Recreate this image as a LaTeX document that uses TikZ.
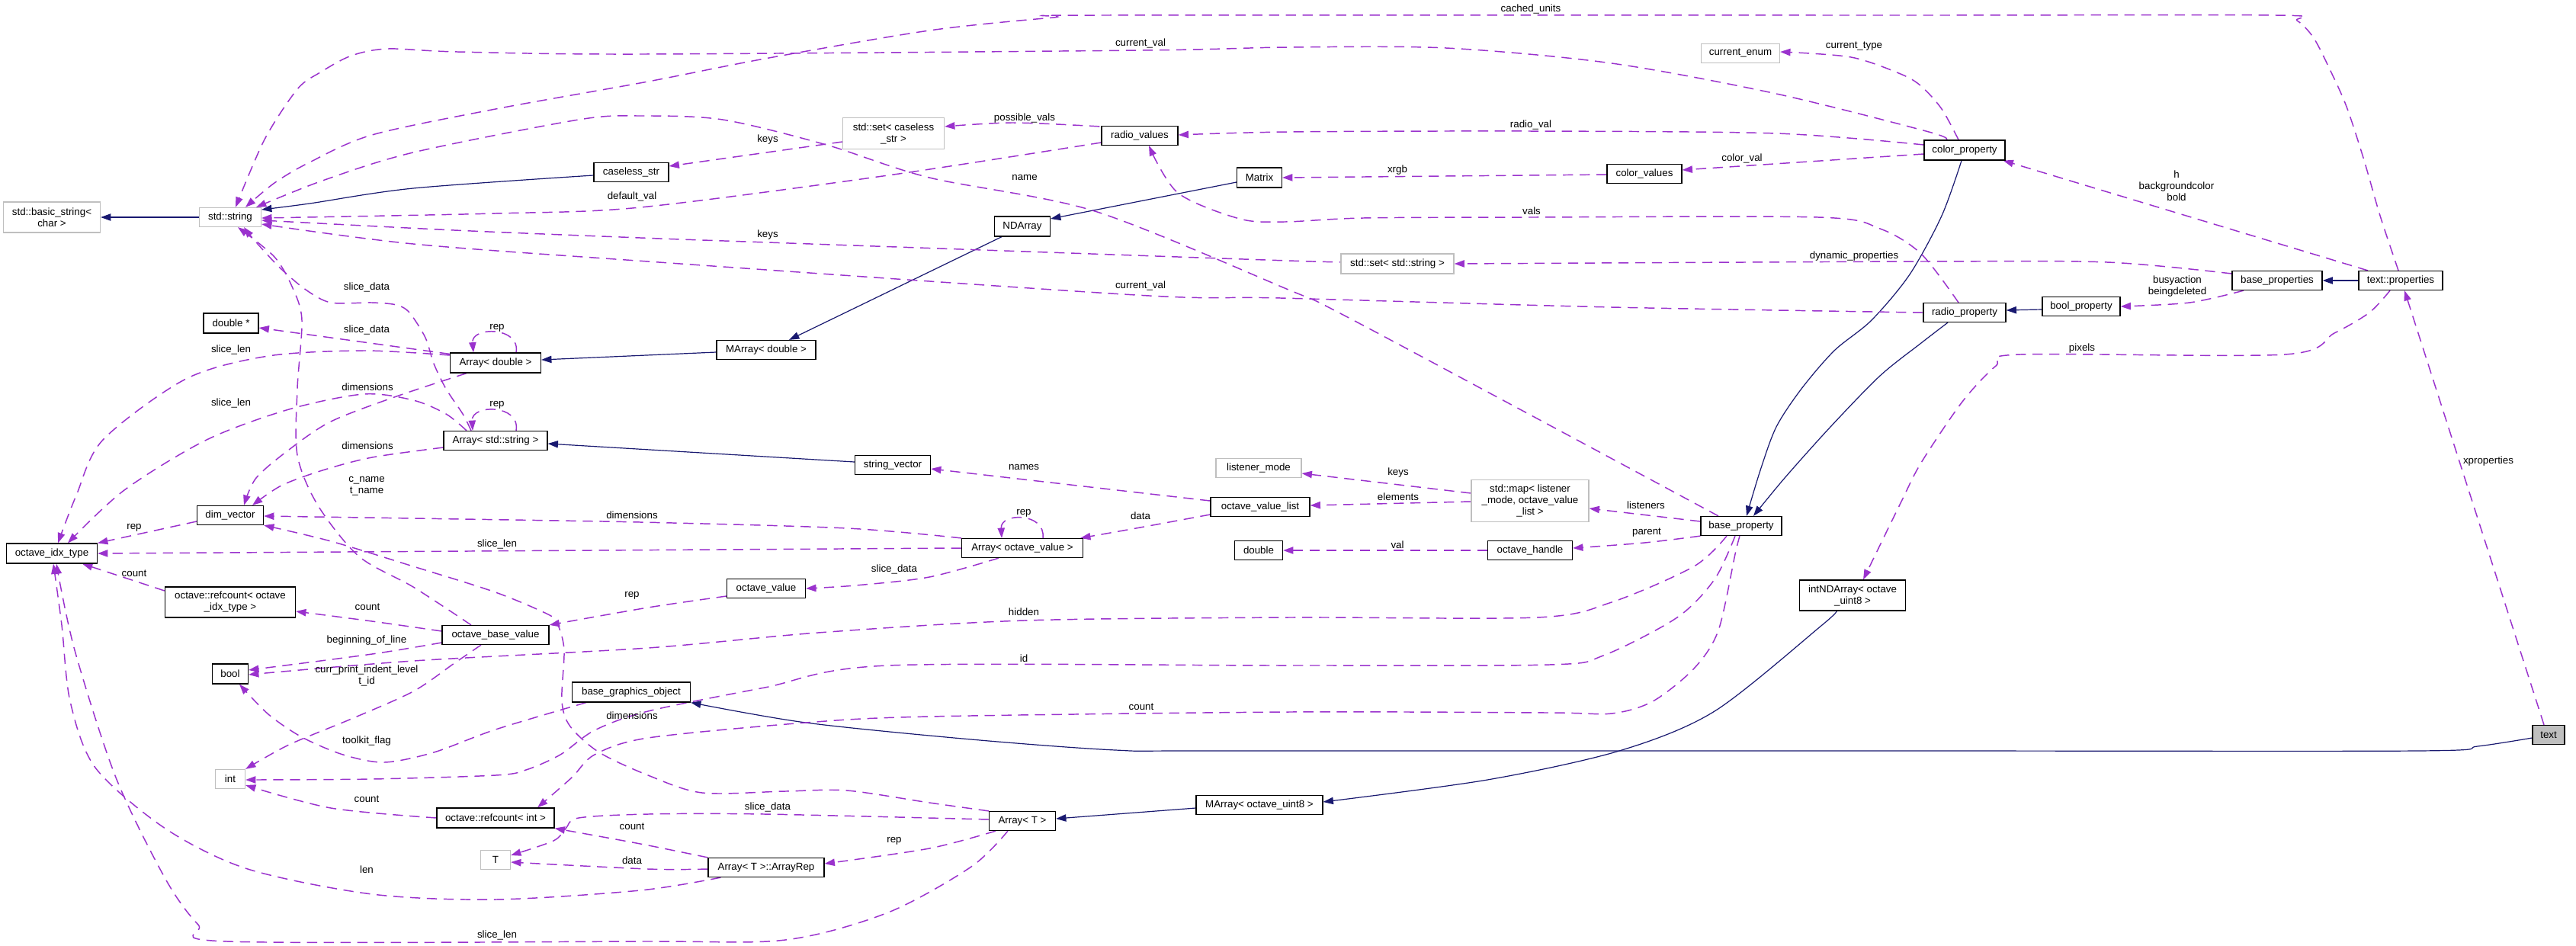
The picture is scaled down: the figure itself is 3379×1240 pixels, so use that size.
\documentclass[tikz,border=0pt]{standalone}
\usepackage{fontspec}
\setmainfont{Liberation Sans}
\usetikzlibrary{calc,arrows.meta}
\definecolor{navy}{HTML}{191970}
\definecolor{orch}{HTML}{9A32CD}
\definecolor{lgray}{HTML}{BFBFBF}
\pgfdeclarelayer{back}
\pgfdeclarelayer{edges}
\pgfsetlayers{back,edges,main}
\tikzset{
  cls/.style={draw=black,line width=0.9pt,fill=white,inner sep=0pt,align=center,font=\fontsize{10}{11.25}\selectfont},
  ext/.style={cls,draw=lgray},
  cur/.style={cls,fill=lgray},
  lbl/.style={inner sep=0pt,align=center,font=\fontsize{10}{11.25}\selectfont},
  inh/.style={draw=navy,line width=0.9pt,-{Triangle[length=10pt,width=7pt]}},
  mem/.style={draw=orch,line width=1.1pt,dash pattern=on 10pt off 6.5pt,-{Triangle[length=10pt,width=7pt]}},
}
\newcommand\mk[6]{\node[#1,minimum width=#4*0.75pt,minimum height=#5*0.75pt] (#2) at (#3) {#6};}
\newcommand\lb[3]{\node[lbl] (#1) at (#2) {#3};}
\begin{document}
\begin{tikzpicture}[x=0.75pt,y=-0.75pt]
\begin{pgfonlayer}{back}
\fill[white] (0,0) rectangle (3379,1240);
\end{pgfonlayer}
\useasboundingbox (0,0) rectangle (3379,1240);
% nodes
\mk{ext}{bstr}{68,285}{127}{40}{std::basic\_string<\\char >}
\mk{ext}{sstr}{302,285}{81}{25}{std::string}
\mk{cls}{cstr}{828,226}{98}{25}{caseless\_str}
\mk{ext}{setcs}{1172,175}{133}{41}{std::set< caseless\\\_str >}
\mk{cls}{rvals}{1495,178}{100}{25}{radio\_values}
\mk{cls}{matrix}{1652,233}{59}{26}{Matrix}
\mk{cls}{ndarr}{1341,297}{73}{26}{NDArray}
\mk{ext}{cenum}{2283,70}{103}{25}{current\_enum}
\mk{cls}{cvals}{2157,228}{98}{25}{color\_values}
\mk{ext}{setss}{1833,346}{148}{26}{std::set< std::string >}
\mk{cls}{cprop}{2577,197}{106}{26}{color\_property}
\mk{cls}{bprops}{2987,368}{118}{25}{base\_properties}
\mk{cls}{tprops}{3149,368}{110}{25}{text::properties}
\mk{cls}{boolp}{2730,402}{102}{25}{bool\_property}
\mk{cls}{rprop}{2577,410}{108}{25}{radio\_property}
\mk{cls}{dstar}{303,424}{72}{26}{double *}
\mk{cls}{adbl}{650,476}{119}{26}{Array< double >}
\mk{cls}{astr}{650,578}{136}{25}{Array< std::string >}
\mk{cls}{dimv}{302,676}{87}{25}{dim\_vector}
\mk{cls}{oidx}{68,726}{119}{26}{octave\_idx\_type}
\mk{cls}{rcidx}{302,790}{171}{40}{octave::refcount< octave\\\_idx\_type >}
\mk{cls}{madbl}{1005,459}{130}{25}{MArray< double >}
\mk{cls}{svec}{1171,610}{99}{25}{string\_vector}
\mk{ext}{lmode}{1651,614}{112}{25}{listener\_mode}
\mk{cls}{ovl}{1653,665}{130}{25}{octave\_value\_list}
\mk{cls}{aov}{1341,719}{159}{25}{Array< octave\_value >}
\mk{cls}{ov}{1005,772}{103}{25}{octave\_value}
\mk{cls}{dbl}{1651,722}{63}{25}{double}
\mk{ext}{smap}{2007,657}{154}{55}{std::map< listener\\\_mode, octave\_value\\\_list >}
\mk{cls}{bprop}{2284,690}{106}{25}{base\_property}
\mk{cls}{ohandle}{2007,722}{111}{25}{octave\_handle}
\mk{cls}{intnd}{2430,781}{139}{40}{intNDArray< octave\\\_uint8 >}
\mk{cls}{obv}{650,833}{140}{25}{octave\_base\_value}
\mk{cls}{boolt}{302,884}{47}{26}{bool}
\mk{cls}{bgo}{828,908}{155}{26}{base\_graphics\_object}
\mk{ext}{intt}{302,1022}{39}{25}{int}
\mk{cls}{rcint}{650,1073}{154}{26}{octave::refcount< int >}
\mk{ext}{tt}{650,1128}{39}{25}{T}
\mk{cls}{at}{1341,1077}{87}{25}{Array< T >}
\mk{cls}{arep}{1005,1138}{152}{25}{Array< T >::ArrayRep}
\mk{cls}{mau8}{1652,1056}{166}{25}{MArray< octave\_uint8 >}
\mk{cur}{text}{3343,964}{42}{25}{text}
\begin{pgfonlayer}{edges}
% inheritance edges
\draw[inh] (sstr.west) -- (bstr.east);
\draw[inh] plot[smooth] coordinates {($(cstr.west)+(0,4)$) (542,247) (406,267) ($(sstr.east)+(0,-10)$)};
\draw[inh] ($(matrix.west)+(0,6)$) -- ($(ndarr.east)+(0,-10)$);
\draw[inh] ($(ndarr.south)+(-27,0)$) -- ($(madbl.north)+(30,0)$);
\draw[inh] ($(madbl.west)+(0,3)$) -- ($(adbl.east)+(0,-4)$);
\draw[inh] ($(svec.west)+(0,-4)$) -- ($(astr.east)+(0,4)$);
\draw[inh] plot[smooth] coordinates {($(cprop.south)+(-4,0)$) (2547,283) (2505,360) (2455,420) (2406,460) (2363,510) (2330,560) (2309,617) ($(bprop.north)+(7,0)$)};
\draw[inh] plot[smooth] coordinates {($(rprop.south)+(-22,0)$) (2520,450) (2466,493) (2401,560) (2341,627) ($(bprop.north)+(16,0)$)};
\draw[inh] ($(boolp.west)+(0,4)$) -- ($(rprop.east)+(0,-3)$);
\draw[inh] (tprops.west) -- (bprops.east);
\draw[inh] plot[smooth] coordinates {($(text.west)+(0,4)$) (3250,979) (3170,985) (2500,985) (1600,985) (1463,984) (1274,970) (1057,948) (bgo.south east)};
\draw[inh] plot[smooth] coordinates {($(intnd.south)+(-21,0)$) (2390,820) (2249,933) (2124,985) (1951,1023) ($(mau8.east)+(0,-4)$)};
\draw[inh] ($(mau8.west)+(0,4)$) -- ($(at.east)+(0,-3)$);
% member edges
\draw[mem] plot[smooth] coordinates {($(tprops.north)+(-3,0)$) (3122,283) (3100,207) (3078,140) (3057,93) (3035,50) (3013,27) (2985,20) (2500,20) (1447,20) (1382,23) (1219,40) (1003,77) (850,107) (650,143) (488,177) (406,213) (360,240) ($(sstr.north)+(20,0)$)};
\draw[mem] plot[smooth] coordinates {($(cprop.north)+(-24,0)$) (2530,173) (2330,123) (2114,83) (1897,63) (1690,62) (1496,66) (840,71) (600,68) (509,64) (461,73) (420,95) (390,117) (347,183) ($(sstr.north)+(7,0)$)};
\draw[mem] plot[smooth] coordinates {($(bprop.north)+(-30,0)$) (2005,543) (1756,410) (1690,380) (1436,277) (1219,233) (1084,190) (948,157) (840,152) (759,157) (542,200) (423,237) ($(sstr.north)+(34,0)$)};
\draw[mem] plot[smooth] coordinates {($(rvals.west)+(0,9)$) (1165,230) (840,272) (650,280) ($(sstr.east)+(0,1)$)};
\draw[mem] plot[smooth] coordinates {($(setss.west)+(0,-3)$) (1690,342) (1007,318) (840,312) (596,302) ($(sstr.east)+(0,4)$)};
\draw[mem] plot[smooth] coordinates {(rprop.west) (2114,403) (1680,391) (1490,387) (850,343) (542,320) ($(sstr.east)+(0,9)$)};
\draw[mem] plot[smooth] coordinates {($(astr.north)+(-32,0)$) (607,543) (585,510) (569,477) (558,443) (537,410) (520,400) (488,397) (434,397) (401,380) (369,353) (347,330) (331,312) ($(sstr.south)+(18,0)$)};
\draw[mem] plot[smooth] coordinates {($(obv.north)+(-32,0)$) (542,770) (471,730) (417,663) (390,597) (390,510) (396,420) (384,378) (360,337) ($(sstr.south)+(10,0)$)};
\draw[mem] plot[smooth] coordinates {($(rvals.north west)+(-2,1)$) (1328,161) ($(setcs.east)+(0,-9)$)};
\draw[mem] ($(setcs.west)+(0,11)$) -- ($(cstr.east)+(0,-8)$);
\draw[mem] plot[smooth] coordinates {($(cprop.west)+(0,-7)$) (2330,175) (2005,172) (1690,173) ($(rvals.east)+(0,-1)$)};
\draw[mem] plot[smooth] coordinates {($(cprop.north)+(-8,0)$) (2547,143) (2520,113) (2493,97) (2428,75) ($(cenum.east)+(0,-2)$)};
\draw[mem] ($(cprop.west)+(0,5)$) -- ($(cvals.east)+(0,-5)$);
\draw[mem] ($(cvals.west)+(0,1)$) -- (matrix.east);
\draw[mem] plot[smooth] coordinates {($(rprop.north)+(-8,0)$) (2520,333) (2466,300) (2385,285) (2005,285) (1788,286) (1685,291) (1626,287) (1545,253) ($(rvals.south)+(12,0)$)};
\draw[mem] plot[smooth] coordinates {($(bprops.west)+(0,-9)$) (2764,344) (2520,343) (setss.east)};
\draw[mem] ($(tprops.north)+(-43,0)$) -- ($(cprop.south east)+(-3,0)$);
\draw[mem] plot[smooth] coordinates {($(bprops.south)+(-44,0)$) (2872,397) (boolp.east)};
\draw[mem] ($(text.north)+(-6,0)$) -- ($(tprops.south)+(5,0)$);
\draw[mem] plot[smooth] coordinates {($(tprops.south)+(-14,0)$) (3108,410) (3062,437) (2997,465) (2650,465) (2618,480) (2574,527) (2520,607) (2493,660) ($(intnd.north)+(14,0)$)};
\draw[mem] ($(ovl.west)+(0,-8)$) -- ($(svec.east)+(0,5)$);
\draw[mem] ($(smap.west)+(0,-10)$) -- ($(lmode.east)+(0,7)$);
\draw[mem] ($(smap.west)+(0,1)$) -- ($(ovl.east)+(0,-2)$);
\draw[mem] ($(bprop.west)+(0,-6)$) -- ($(smap.east)+(0,10)$);
\draw[mem] plot[smooth] coordinates {(bprop.south west) (2157,712) ($(ohandle.east)+(0,-3)$)};
\draw[mem] (ohandle.west) -- (dbl.east);
\draw[mem] plot[smooth] coordinates {($(ovl.west)+(0,10)$) (1490,693) ($(aov.north east)+(-4,0)$)};
\draw[mem] ($(aov.north)+(27,0)$) .. controls (1372,672) and (1312,672) .. ($(aov.north)+(-27,0)$);
\draw[mem] plot[smooth] coordinates {($(aov.south)+(-31,0)$) (1219,757) (1122,768) (ov.east)};
\draw[mem] plot[smooth] coordinates {(aov.north west) (1111,693) (840,685) (542,680) ($(dimv.east)+(0,1)$)};
\draw[mem] (aov.west) -- (oidx.east);
\draw[mem] ($(dimv.west)+(0,8)$) -- (oidx.north east);
\draw[mem] ($(rcidx.west)+(0,-15)$) -- ($(oidx.south)+(40,0)$);
\draw[mem] plot[smooth] coordinates {($(obv.west)+(0,-5)$) (488,815) ($(rcidx.east)+(0,12)$)};
\draw[mem] plot[smooth] coordinates {($(ov.west)+(0,10)$) (850,797) (obv.north east)};
\draw[mem] plot[smooth] coordinates {(at.north west) (1219,1053) (1111,1037) (1030,1038) (921,1040) (850,1017) (786,987) (748,953) (737,920) (740,853) (732,820) (721,807) (650,777) (542,743) (434,710) (dimv.south east)};
\draw[mem] plot[smooth] coordinates {($(bprop.south)+(-8,0)$) (2249,760) (2200,810) (2103,860) (2032,872) (1690,873) (1165,873) (1003,902) (850,933) (780,958) (735,990) (690,1010) (650,1017) (488,1022) ($(intt.east)+(0,1)$)};
\draw[mem] plot[smooth] coordinates {($(bprop.south)+(-2,0)$) (2276,727) (2254,827) (2222,877) (2168,920) (2114,936) (2032,935) (1690,934) (1219,940) (1057,948) (850,968) (780,990) (750,1020) ($(rcint.north)+(55,0)$)};
\draw[mem] plot[smooth] coordinates {($(bprop.south)+(-19,0)$) (2222,743) (2114,790) (2016,810) (1690,810) (1343,814) (1073,830) (850,850) (542,867) ($(boolt.east)+(0,1)$)};
\draw[mem] plot[smooth] coordinates {($(obv.west)+(0,10)$) (488,858) ($(boolt.east)+(0,-5)$)};
\draw[mem] plot[smooth] coordinates {($(obv.south)+(-19,0)$) (596,870) (542,907) (461,943) (379,977) (intt.north east)};
\draw[mem] plot[smooth] coordinates {($(bgo.south west)+(19,0)$) (650,957) (569,987) (504,1000) (450,990) (396,967) (352,937) ($(boolt.south)+(12,0)$)};
\draw[mem] plot[smooth] coordinates {(rcint.west) (434,1060) ($(intt.east)+(0,8)$)};
\draw[mem] plot[smooth] coordinates {($(at.west)+(0,-2)$) (1003,1068) (850,1068) (759,1073) (742,1087) (726,1103) ($(tt.east)+(0,-6)$)};
\draw[mem] plot[smooth] coordinates {(arep.north west) (840,1107) (rcint.south east)};
\draw[mem] plot[smooth] coordinates {($(arep.west)+(0,2)$) (850,1140) ($(tt.east)+(0,3)$)};
\draw[mem] plot[smooth] coordinates {($(at.south)+(-35,0)$) (1219,1113) ($(arep.east)+(0,-5)$)};
\draw[mem] plot[smooth] coordinates {($(arep.south west)+(17,0)$) (840,1168) (650,1180) (488,1173) (325,1140) (217,1087) (125,1007) (92,920) (81,820) ($(oidx.south)+(2,0)$)};
\draw[mem] plot[smooth] coordinates {($(at.south)+(-19,0)$) (1274,1137) (1165,1197) (1030,1233) (840,1235) (298,1235) (260,1213) (217,1153) (152,1020) (98,853) ($(oidx.south)+(6,0)$)};
\draw[mem] ($(adbl.north west)+(0,2)$) -- ($(dstar.east)+(0,6)$);
\draw[mem] plot[smooth] coordinates {($(adbl.west)+(0,-10)$) (477,460) (352,467) (244,497) (135,577) (100,650) ($(oidx.north)+(8,0)$)};
\draw[mem] plot[smooth] coordinates {($(adbl.south)+(-38,0)$) (520,520) (434,553) (379,590) (336,627) ($(dimv.north)+(18,0)$)};
\draw[mem] plot[smooth] coordinates {($(astr.west)+(0,9)$) (488,600) (423,617) (369,637) ($(dimv.north)+(29,0)$)};
\draw[mem] plot[smooth] coordinates {($(astr.north)+(-38,0)$) (585,543) (542,525) (477,517) (379,537) (271,577) (163,643) ($(oidx.north)+(21,0)$)};
\draw[mem] ($(adbl.north)+(27,0)$) .. controls (683,428) and (618,428) .. ($(adbl.north)+(-29,0)$);
\draw[mem] ($(astr.north)+(27,0)$) .. controls (683,530) and (618,530) .. ($(astr.north)+(-30,0)$);
\end{pgfonlayer}
% labels
\lb{l1}{2008,12}{cached\_units}
\lb{l2}{1496,57}{current\_val}
\lb{l3}{2432,61}{current\_type}
\lb{l4}{1344,155}{possible\_vals}
\lb{l5}{2008,164}{radio\_val}
\lb{l6}{1007,183}{keys}
\lb{l7}{1344,233}{name}
\lb{l8}{829,258}{default\_val}
\lb{l9}{2285,208}{color\_val}
\lb{l10}{1833,223}{xrgb}
\lb{l11}{2855,244}{h\\backgroundcolor\\bold}
\lb{l12}{2009,277}{vals}
\lb{l13}{1007,308}{keys}
\lb{l14}{2432,336}{dynamic\_properties}
\lb{l15}{1496,375}{current\_val}
\lb{l16}{2856,376}{busyaction\\beingdeleted}
\lb{l17}{481,377}{slice\_data}
\lb{l18}{481,433}{slice\_data}
\lb{l19}{652,430}{rep}
\lb{l20}{303,459}{slice\_len}
\lb{l21}{2731,457}{pixels}
\lb{l22}{482,508}{dimensions}
\lb{l23}{303,529}{slice\_len}
\lb{l24}{652,531}{rep}
\lb{l25}{482,585}{dimensions}
\lb{l26}{3264,605}{xproperties}
\lb{l27}{1343,613}{names}
\lb{l28}{1834,620}{keys}
\lb{l29}{481,638}{c\_name\\t\_name}
\lb{l30}{1834,652}{elements}
\lb{l31}{2159,663}{listeners}
\lb{l32}{1343,673}{rep}
\lb{l33}{829,676}{dimensions}
\lb{l34}{1496,677}{data}
\lb{l35}{176,692}{rep}
\lb{l36}{2160,699}{parent}
\lb{l37}{652,714}{slice\_len}
\lb{l38}{1833,715}{val}
\lb{l39}{1173,747}{slice\_data}
\lb{l40}{176,752}{count}
\lb{l41}{829,781}{rep}
\lb{l42}{482,796}{count}
\lb{l43}{1343,803}{hidden}
\lb{l44}{481,840}{beginning\_of\_line}
\lb{l45}{1343,864}{id}
\lb{l46}{481,886}{curr\_print\_indent\_level\\t\_id}
\lb{l47}{1497,927}{count}
\lb{l48}{829,939}{dimensions}
\lb{l49}{481,972}{toolkit\_flag}
\lb{l50}{481,1048}{count}
\lb{l51}{1007,1059}{slice\_data}
\lb{l52}{829,1084}{count}
\lb{l53}{1173,1103}{rep}
\lb{l54}{829,1129}{data}
\lb{l55}{481,1141}{len}
\lb{l56}{652,1227}{slice\_len}
\end{tikzpicture}
\end{document}
